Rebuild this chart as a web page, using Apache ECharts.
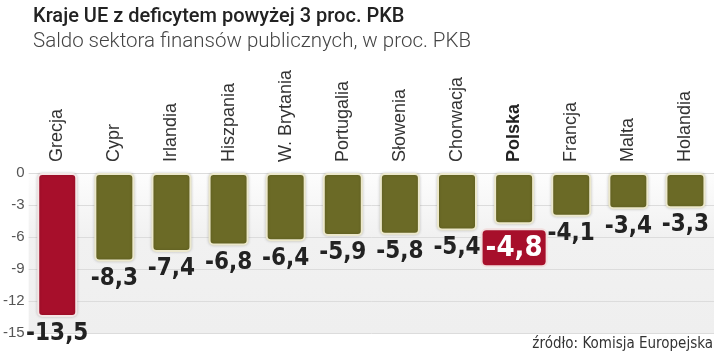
<!DOCTYPE html>
<html>
<head>
<meta charset="utf-8">
<script src="https://cdn.jsdelivr.net/npm/echarts@6/dist/echarts.min.js"></script>
<style>
  html, body { margin: 0; padding: 0; background: #fff; }
  #chart { width: 720px; height: 352px; }
</style>
</head>
<body>
<div id="chart"></div>
<script>
var kraje = ['Grecja', 'Cypr', 'Irlandia', 'Hiszpania', 'W. Brytania', 'Portugalia',
  'Słowenia', 'Chorwacja', 'Polska', 'Francja', 'Malta', 'Holandia'];
var saldo = [-13.5, -8.3, -7.4, -6.8, -6.4, -5.9, -5.8, -5.4, -4.8, -4.1, -3.4, -3.3];
var wyrozniony = 'Grecja';
var polska = 'Polska';

var chart = echarts.init(document.getElementById('chart'));

var oliwka = '#6b6a26';
var czerwien = '#a70f2b';
var waski = "'DejaVu Sans Condensed', 'Liberation Sans Narrow', sans-serif";

var etykiety = kraje.map(function (k) {
  if (k === polska) {
    return { value: k, textStyle: { fontWeight: 'bold', color: '#222' } };
  }
  return k;
});

var dane = saldo.map(function (v, i) {
  var item = { value: v };
  if (kraje[i] === wyrozniony) {
    item.itemStyle = { color: czerwien, borderColor: '#f4e6e6' };
  }
  if (kraje[i] === polska) {
    item.label = {
      backgroundColor: czerwien,
      color: '#fff',
      fontSize: 29,
      padding: [4, 3, 2, 3],
      borderRadius: 4,
      borderColor: '#f2dede',
      borderWidth: 2,
      distance: 6
    };
  }
  return item;
});

var option = {
  animation: false,
  title: [
    {
      text: 'Kraje UE z deficytem powyżej 3 proc. PKB',
      left: 28, top: 2,
      textStyle: { fontFamily: 'Roboto', fontSize: 20, fontWeight: 500, color: '#222' }
    },
    {
      text: 'Saldo sektora finansów publicznych, w proc. PKB',
      left: 28, top: 26,
      textStyle: { fontFamily: 'Roboto', fontSize: 20.5, fontWeight: 300, color: '#444' }
    },
    {
      text: 'źródło: Komisja Europejska',
      right: 2, top: 332,
      textStyle: { fontFamily: waski, fontSize: 15, fontWeight: 'normal', color: '#333' }
    }
  ],
  grid: {
    left: 27, right: 6, top: 173, bottom: 19,
    show: true,
    borderWidth: 0,
    backgroundColor: new echarts.graphic.LinearGradient(0, 0, 0, 1, [
      { offset: 0, color: '#fdfdfd' },
      { offset: 0.4, color: '#f1f1f1' },
      { offset: 1, color: '#efefef' }
    ])
  },
  xAxis: {
    type: 'category',
    position: 'top',
    data: etykiety,
    axisLine: { show: false },
    axisTick: { show: false },
    axisLabel: {
      rotate: 90,
      margin: 11,
      interval: 0,
      fontFamily: 'Liberation Sans',
      fontSize: 18,
      color: '#333'
    }
  },
  yAxis: {
    type: 'value',
    min: -15,
    max: 0,
    interval: 3,
    axisLine: { show: false },
    axisTick: { show: false },
    axisLabel: { margin: 4, fontFamily: 'Liberation Sans', fontSize: 15, color: '#555' },
    splitLine: { lineStyle: { color: '#dcdcdc', width: 1 } }
  },
  series: [
    {
      type: 'bar',
      data: dane,
      barWidth: 40,
      itemStyle: {
        color: oliwka,
        borderColor: '#ece8cc',
        borderWidth: 2,
        borderRadius: 4,
        shadowBlur: 3,
        shadowColor: 'rgba(0,0,0,0.18)'
      },
      label: {
        show: true,
        position: 'bottom',
        distance: 5,
        fontFamily: waski,
        fontWeight: 'bold',
        fontSize: 24,
        color: '#222',
        formatter: function (p) {
          return String(p.value).replace('.', ',');
        }
      }
    }
  ]
};

chart.setOption(option);
</script>
</body>
</html>
